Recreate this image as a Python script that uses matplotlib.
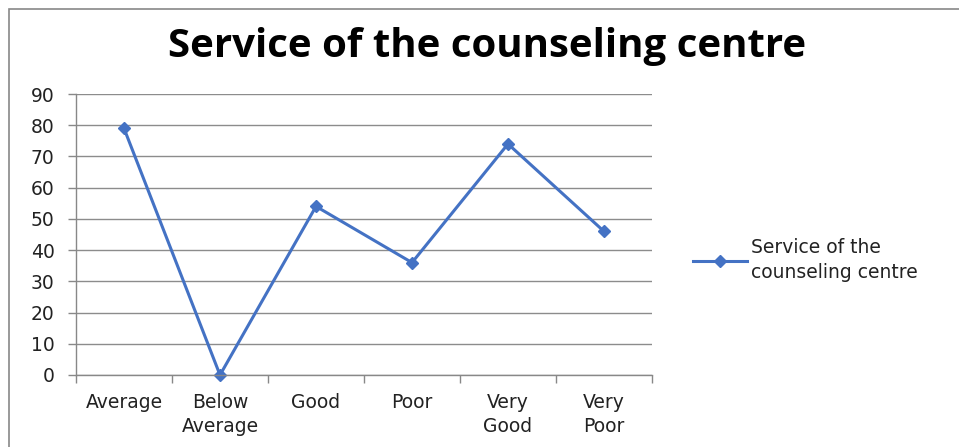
import matplotlib
matplotlib.use("Agg")
import matplotlib.pyplot as plt
from matplotlib.patches import Rectangle

categories = ["Average", "Below\nAverage", "Good", "Poor", "Very\nGood", "Very\nPoor"]
values = [79, 0, 54, 36, 74, 46]
series_name = "Service of the\ncounseling centre"
title = "Service of the counseling centre"
yticks = list(range(0, 91, 10))

plt.rcParams['font.family'] = ['DejaVu Sans']

W, H = 959, 447
fig = plt.figure(figsize=(W/100, H/100), dpi=100)
fig.patch.set_facecolor("white")

# chart border
fig.add_artist(Rectangle((8.5/W, -0.1), 1.2, 1 - 8.5/H + 0.1, transform=fig.transFigure,
                         fill=False, edgecolor="#888888", linewidth=1.2))

ax = fig.add_axes([76/W, 1 - 375/H, (652-76)/W, (375-94)/H])
x = list(range(len(categories)))
color = "#4472C4"
ax.plot(x, values, color=color, linewidth=2.2, marker="D", markersize=6.5,
        label=series_name, clip_on=False)

ax.set_xlim(-0.5, len(categories) - 0.5)
ax.set_ylim(0, 90)
ax.set_yticks(yticks)
ax.set_xticks(x)
ax.set_xticklabels(categories, fontsize=13.5, linespacing=1.3)
ax.set_xticks([i - 0.5 for i in range(len(categories) + 1)], minor=True)
ax.tick_params(axis='x', which='major', length=0, pad=13)
ax.tick_params(axis='x', which='minor', length=5.5, color="#888888", width=1)
ax.tick_params(axis='y', length=5.5, color="#888888", width=1, labelsize=13.5, pad=10)
for lbl in ax.get_xticklabels() + ax.get_yticklabels():
    lbl.set_color("#222222")

ax.grid(axis='y', color="#8c8c8c", linewidth=1)
ax.set_axisbelow(True)
for s in ["top", "right"]:
    ax.spines[s].set_visible(False)
for s in ["left", "bottom"]:
    ax.spines[s].set_color("#888888")
    ax.spines[s].set_linewidth(1)

fig.text(487/W, 1 - 47/H, title, ha="center", va="center", fontsize=29,
         fontweight="bold", color="black", family=['Open Sans', 'DejaVu Sans'])

leg = fig.legend(loc="center left", bbox_to_anchor=(676/W, 1 - 260/H), frameon=False,
                 fontsize=13.5, handlelength=2.9, handletextpad=0.2)
for t in leg.get_texts():
    t.set_color("#222222")
    t.set_linespacing(1.4)

fig.savefig("out.png", dpi=100, facecolor="white")
